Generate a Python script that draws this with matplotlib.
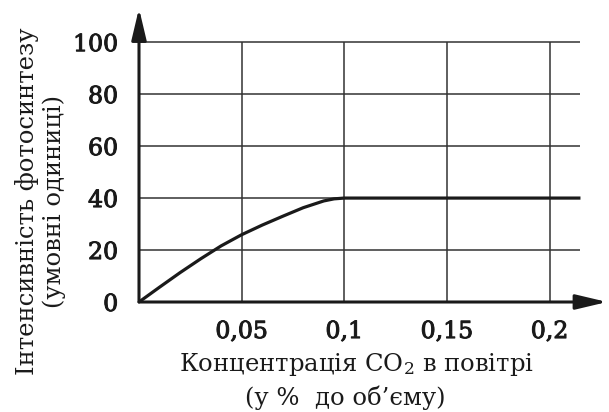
import matplotlib
matplotlib.use("Agg")
import matplotlib.pyplot as plt
import matplotlib.patheffects as pe

plt.rcParams['font.family'] = ['DejaVu Serif']
plt.rcParams['mathtext.fontset'] = 'dejavuserif'

co2 = [0, 0.01, 0.02, 0.03, 0.04, 0.05, 0.06, 0.07, 0.08, 0.09, 0.095, 0.1, 0.215]
intensity = [0, 5.7, 11.3, 16.6, 21.6, 25.9, 29.6, 33.0, 36.3, 38.9, 39.7, 40.0, 40.0]
x_ticks = [0.05, 0.1, 0.15, 0.2]
x_labels = ["0,05", "0,1", "0,15", "0,2"]
y_ticks = [0, 20, 40, 60, 80, 100]
y_labels = ["0", "20", "40", "60", "80", "100"]

fig = plt.figure(figsize=(6.09, 4.12), dpi=100)
ax = fig.add_axes([139/609, (412-302)/412, (601-139)/609, (302-11)/412])
ax.set_xlim(0, 0.225)
ax.set_ylim(0, 112)
for s in ax.spines.values():
    s.set_visible(False)

gc = '#333333'
ax.hlines(y_ticks[1:], 0, 0.215, color=gc, lw=1.1, zorder=1)
ax.vlines(x_ticks, 0, 100, color=gc, lw=1.1, zorder=1)

ax.plot(co2, intensity, color='#1a1a1a', lw=2.3, zorder=3, solid_capstyle='butt', solid_joinstyle='round')

ap = dict(arrowstyle='-|>,head_length=1.9,head_width=0.45', color='#1a1a1a', lw=2.2, shrinkA=0, shrinkB=0)
ax.annotate('', xy=(0.228, 0), xytext=(0, 0), arrowprops=ap, annotation_clip=False, zorder=4)
ax.annotate('', xy=(0, 113), xytext=(0, 0), arrowprops=ap, annotation_clip=False, zorder=4)

stroke = [pe.withStroke(linewidth=0.7, foreground='#1a1a1a')]
ax.set_xticks(x_ticks)
ax.set_xticklabels(x_labels, fontsize=17, color='#1a1a1a', path_effects=stroke)
ax.set_yticks(y_ticks)
ax.set_yticklabels(y_labels, fontsize=17, color='#1a1a1a', path_effects=stroke)
ax.tick_params(axis='x', length=0, pad=13)
ax.tick_params(axis='y', length=0, pad=15)

tc = '#1a1a1a'
fig.text(356/609, 1-371/412, "Концентрація CO$_2$ в повітрі", ha='center', va='baseline', fontsize=17.5, color=tc)
fig.text(345/609, 1-405/412, "(у %  до об’єму)", ha='center', va='baseline', fontsize=17.5, color=tc)
fig.text(27/609, 1-201/412, "Інтенсивність фотосинтезу", ha='center', va='center', rotation=90, fontsize=17.5, color=tc)
fig.text(54/609, 1-201/412, "(умовні одиниці)", ha='center', va='center', rotation=90, fontsize=17.5, color=tc)

fig.savefig("out.png", dpi=100)
